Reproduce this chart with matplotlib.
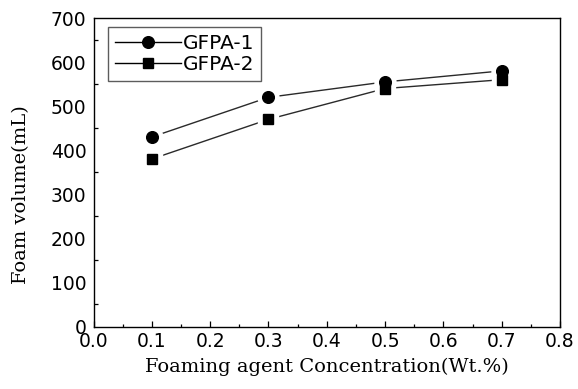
import matplotlib
matplotlib.use('Agg')
import matplotlib.pyplot as plt
from matplotlib.ticker import MultipleLocator

conc = [0.1, 0.3, 0.5, 0.7]
gfpa1 = [430, 520, 555, 580]
gfpa2 = [380, 470, 540, 560]

fig = plt.figure(figsize=(5.78, 3.89), dpi=100)
ax = fig.add_axes([93.5 / 578, 1 - 326.5 / 389, (560 - 93.5) / 578, (326.5 - 18) / 389])

sans = 'DejaVu Sans'
serif = 'DejaVu Serif'

# lines first, then white halo markers (gives the gap), then black markers
ax.plot(conc, gfpa1, '-', color='#2a2a2a', lw=1.0, zorder=2)
ax.plot(conc, gfpa2, '-', color='#2a2a2a', lw=1.0, zorder=2)
ax.plot(conc, gfpa1, 'o', ms=15, mfc='white', mec='white', ls='none', zorder=3)
ax.plot(conc, gfpa2, 's', ms=14, mfc='white', mec='white', ls='none', zorder=3)
ax.plot(conc, gfpa1, 'o', ms=8.4, color='black', ls='none', zorder=4)
ax.plot(conc, gfpa2, 's', ms=7.8, color='black', ls='none', zorder=4)

# legend proxies
h1, = ax.plot([], [], 'o-', color='black', ms=8.4, lw=1.0)
h2, = ax.plot([], [], 's-', color='black', ms=7.8, lw=1.0)
leg = ax.legend([h1, h2], ['GFPA-1', 'GFPA-2'], loc='upper left',
                bbox_to_anchor=(0.031, 0.971), frameon=True, fancybox=False,
                edgecolor='#333333', handlelength=3.3, handletextpad=0.05,
                borderpad=0.35, borderaxespad=0.0, labelspacing=0.12,
                prop={'family': sans, 'size': 14.5})
leg.get_frame().set_linewidth(1.0)

ax.set_xlim(0.0, 0.8)
ax.set_ylim(0, 700)
ax.xaxis.set_minor_locator(MultipleLocator(0.05))
ax.yaxis.set_minor_locator(MultipleLocator(50))
ax.tick_params(which='both', direction='in', top=False, right=False, width=0.9)
ax.tick_params(axis='x', which='major', length=4.5, pad=4)
ax.tick_params(axis='x', which='minor', length=2.5)
ax.tick_params(axis='y', which='major', length=0, pad=5)
ax.tick_params(axis='y', which='minor', length=3)
ax.set_xticks([i / 10 for i in range(9)])
ax.set_xticklabels([f'{i / 10:.1f}' for i in range(9)], family=sans, fontsize=13.5)
ax.set_yticks(range(0, 701, 100))
ax.set_yticklabels([str(v) for v in range(0, 701, 100)], family=sans, fontsize=13.5)
for s in ax.spines.values():
    s.set_linewidth(1.0)

ax.set_xlabel('Foaming agent Concentration(Wt.%)', family=serif, fontsize=14, labelpad=5)
ax.set_ylabel('Foam volume(mL)', family=serif, fontsize=14, labelpad=3)
ax.yaxis.set_label_coords(-0.135, 0.426)

fig.savefig('out.png', dpi=100)
